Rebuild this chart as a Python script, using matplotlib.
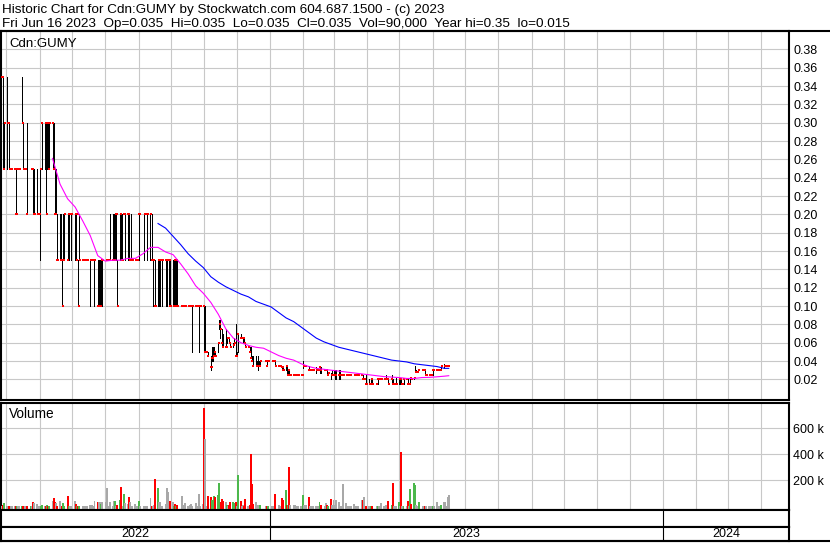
import numpy as np
import pandas as pd
import matplotlib
matplotlib.use("Agg")
import matplotlib.pyplot as plt
import matplotlib.dates as mdates
from matplotlib.lines import Line2D

plt.rcParams['font.family'] = ['Liberation Sans', 'DejaVu Sans']
n = np.nan

# daily bars, one row per week (Mon..Fri), prices in thousandths of a dollar
first_monday = "2022-04-25"
high = [
    n, n, 350, 350, 300,        # Apr 25
    350, 300, 300, 250, 250,    # May 2
    250, 250, 250, 250, 250,    # May 9
    350, 300, 250, 250, 300,    # May 16
    n, 250, 250, 250, 250,      # May 23
    250, 200, 250, 250, 300,    # May 30
    300, 300, 300, 300, 300,    # Jun 6
    300, 300, 250, 250, 200,    # Jun 13
    200, 200, 150, 200, 200,    # Jun 20
    200, 200, 200, 200, n,      # Jun 27
    200, 200, 200, 150, 200,    # Jul 4
    150, 150, 150, 150, 150,    # Jul 11
    150, 150, 150, 150, 150,    # Jul 18
    150, 150, 150, 150, 150,    # Jul 25
    n, 150, 150, 150, 200,      # Aug 1
    200, 200, 200, 200, 150,    # Aug 8
    200, 200, 200, 200, 200,    # Aug 15
    200, 200, 150, 200, 150,    # Aug 22
    150, 150, 150, 200, 200,    # Aug 29
    n, 200, 200, 200, 200,      # Sep 5
    200, 200, 150, 150, 150,    # Sep 12
    150, 150, 150, 150, 150,    # Sep 19
    150, 150, 150, 150, 150,    # Sep 26
    150, 150, 150, 150, 150,    # Oct 3
    n, 100, 100, 100, 100,      # Oct 10
    100, 100, 100, 100, 100,    # Oct 17
    100, 100, 100, 100, 100,    # Oct 24
    100, 100, 100, 50, 50,      # Oct 31
    45, 55, 55, 55, 50,         # Nov 7
    60, 85, 85, 75, 70,         # Nov 14
    75, 65, 65, 65, 60,         # Nov 21
    60, 65, 80, 50, 70,         # Nov 28
    70, 65, 65, 65, 60,         # Dec 5
    55, 55, 55, 45, 45,         # Dec 12
    45, 40, 45, 40, 40,         # Dec 19
    n, n, 40, 40, 40,           # Dec 26
    n, 40, 40, 40, 40,          # Jan 2
    35, 35, 35, 35, 35,         # Jan 9
    35, 35, 30, 30, 25,         # Jan 16
    25, 25, 25, 25, 25,         # Jan 23
    25, 25, 40, 35, 35,         # Jan 30
    35, 30, 30, 30, 30,         # Feb 6
    33, 30, 30, 33, 33,         # Feb 13
    n, 30, 30, 30, 27,          # Feb 20
    27, 30, 30, 30, 30,         # Feb 27
    30, 30, 25, 25, 25,         # Mar 6
    25, 25, 25, 25, 25,         # Mar 13
    25, 25, 25, 25, 25,         # Mar 20
    25, 25, 20, 20, 25,         # Mar 27
    20, 15, 20, 20, n,          # Apr 3
    15, 20, 20, 20, 20,         # Apr 10
    20, 20, 25, 20, 20,         # Apr 17
    25, 20, 15, 15, 22,         # Apr 24
    20, 20, 20, 15, 20,         # May 1
    20, 20, 15, 22, 22,         # May 8
    22, 35, 30, 30, 30,         # May 15
    n, 30, 30, 30, 25,          # May 22
    25, 25, 25, 30, 30,         # May 29
    30, 30, 30, 30, 35,         # Jun 5
    37, 35, 35, 35, 35,         # Jun 12
]
low = [
    n, n, 350, 250, 250,        # Apr 25
    250, 300, 250, 250, 250,    # May 2
    250, 200, 250, 250, 250,    # May 9
    300, 250, 250, 250, 200,    # May 16
    n, 250, 250, 200, 200,      # May 23
    200, 200, 150, 250, 250,    # May 30
    250, 200, 250, 250, 250,    # Jun 6
    250, 250, 200, 200, 150,    # Jun 13
    150, 150, 100, 150, 150,    # Jun 20
    150, 150, 200, 150, n,      # Jun 27
    150, 150, 200, 100, 150,    # Jul 4
    150, 150, 150, 150, 150,    # Jul 11
    100, 150, 150, 150, 100,    # Jul 18
    100, 100, 100, 100, 100,    # Jul 25
    n, 150, 150, 150, 150,      # Aug 1
    150, 150, 150, 150, 100,    # Aug 8
    150, 150, 150, 200, 150,    # Aug 15
    150, 150, 150, 150, 150,    # Aug 22
    150, 150, 150, 150, 200,    # Aug 29
    n, 150, 200, 200, 150,      # Sep 5
    150, 150, 100, 150, 100,    # Sep 12
    100, 100, 100, 150, 100,    # Sep 19
    100, 100, 150, 100, 100,    # Sep 26
    100, 100, 100, 100, 100,    # Oct 3
    n, 100, 100, 100, 100,      # Oct 10
    100, 100, 100, 100, 50,     # Oct 17
    100, 100, 100, 50, 100,     # Oct 24
    100, 50, 50, 50, 45,        # Oct 31
    30, 40, 40, 45, 45,         # Nov 7
    50, 75, 65, 55, 55,         # Nov 14
    55, 60, 65, 60, 55,         # Nov 21
    55, 58, 45, 45, 50,         # Nov 28
    65, 65, 60, 60, 55,         # Dec 5
    55, 50, 43, 40, 35,         # Dec 12
    35, 35, 30, 35, 35,         # Dec 19
    n, n, 40, 35, 40,           # Dec 26
    n, 40, 40, 40, 35,          # Jan 2
    35, 35, 35, 30, 30,         # Jan 9
    30, 25, 25, 25, 25,         # Jan 16
    25, 25, 25, 25, 25,         # Jan 23
    25, 25, 32, 35, 35,         # Jan 30
    30, 30, 30, 30, 30,         # Feb 6
    27, 30, 30, 27, 27,         # Feb 13
    n, 30, 30, 25, 25,          # Feb 20
    20, 25, 25, 20, 20,         # Feb 27
    20, 20, 25, 25, 25,         # Mar 6
    25, 25, 25, 25, 25,         # Mar 13
    25, 25, 25, 25, 25,         # Mar 20
    25, 20, 20, 20, 15,         # Mar 27
    15, 15, 15, 15, n,          # Apr 3
    15, 15, 20, 20, 20,         # Apr 10
    20, 20, 20, 20, 15,         # Apr 17
    15, 15, 15, 15, 15,         # Apr 24
    15, 15, 15, 15, 15,         # May 1
    20, 15, 15, 15, 20,         # May 8
    20, 28, 28, 28, 30,         # May 15
    n, 30, 30, 25, 25,          # May 22
    25, 25, 25, 25, 30,         # May 29
    30, 30, 30, 30, 30,         # Jun 5
    32, 35, 35, 35, 35,         # Jun 12
]
close = [
    n, n, 350, 250, 300,        # Apr 25
    300, 300, 250, 250, 250,    # May 2
    250, 200, 250, 250, 250,    # May 9
    300, 250, 250, 250, 200,    # May 16
    n, 250, 250, 200, 200,      # May 23
    200, 200, 200, 250, 300,    # May 30
    300, 200, 300, 250, 300,    # Jun 6
    300, 250, 200, 200, 150,    # Jun 13
    150, 150, 100, 150, 200,    # Jun 20
    150, 200, 200, 200, n,      # Jun 27
    200, 150, 200, 100, 150,    # Jul 4
    150, 150, 150, 150, 150,    # Jul 11
    150, 150, 150, 150, 150,    # Jul 18
    100, 100, 100, 150, 150,    # Jul 25
    n, 150, 150, 150, 150,      # Aug 1
    150, 150, 200, 200, 100,    # Aug 8
    200, 150, 150, 200, 200,    # Aug 15
    200, 150, 150, 150, 150,    # Aug 22
    150, 150, 150, 200, 200,    # Aug 29
    n, 200, 200, 200, 200,      # Sep 5
    200, 150, 150, 150, 100,    # Sep 12
    150, 150, 150, 150, 150,    # Sep 19
    150, 150, 150, 150, 100,    # Sep 26
    100, 150, 100, 150, 100,    # Oct 3
    n, 100, 100, 100, 100,      # Oct 10
    100, 100, 100, 100, 100,    # Oct 17
    100, 100, 100, 100, 100,    # Oct 24
    100, 50, 50, 50, 45,        # Oct 31
    33, 43, 45, 50, 45,         # Nov 7
    60, 80, 75, 60, 55,         # Nov 14
    55, 65, 65, 60, 55,         # Nov 21
    58, 60, 45, 45, 70,         # Nov 28
    65, 65, 65, 60, 55,         # Dec 5
    55, 50, 43, 40, 35,         # Dec 12
    35, 35, 35, 35, 40,         # Dec 19
    n, n, 40, 35, 40,           # Dec 26
    n, 40, 40, 40, 35,          # Jan 2
    35, 35, 35, 33, 30,         # Jan 9
    35, 25, 30, 25, 25,         # Jan 16
    25, 25, 25, 25, 25,         # Jan 23
    25, 25, 35, 35, 35,         # Jan 30
    30, 30, 30, 30, 30,         # Feb 6
    30, 30, 30, 33, 30,         # Feb 13
    n, 30, 30, 25, 27,          # Feb 20
    25, 25, 25, 25, 25,         # Feb 27
    25, 25, 25, 25, 25,         # Mar 6
    25, 25, 25, 25, 25,         # Mar 13
    25, 25, 25, 25, 25,         # Mar 20
    25, 20, 20, 20, 15,         # Mar 27
    15, 15, 20, 15, n,          # Apr 3
    15, 20, 20, 20, 20,         # Apr 10
    20, 20, 20, 20, 15,         # Apr 17
    20, 15, 15, 15, 15,         # Apr 24
    20, 20, 15, 15, 20,         # May 1
    20, 15, 15, 22, 20,         # May 8
    22, 28, 28, 28, 30,         # May 15
    n, 30, 30, 25, 25,          # May 22
    25, 25, 25, 30, 30,         # May 29
    30, 30, 30, 30, 35,         # Jun 5
    35, 35, 35, 35, 35,         # Jun 12
]
# volume in thousands of shares
volume = [
    n, n, 3, 8, 23,             # Apr 25
    2, 3, 4, 3, 2,              # May 2
    2, 4, 2, 3, 2,              # May 9
    3, 2, 1, 2, 4,              # May 16
    n, 2, 3, 31, 26,            # May 23
    18, 4, 5, 3, 10,            # May 30
    5, 5, 8, 3, 2,              # Jun 6
    41, 62, 30, 23, 5,          # Jun 13
    41, 5, 5, 23, 5,            # Jun 20
    80, 5, 5, 3, n,             # Jun 27
    41, 20, 3, 2, 3,            # Jul 4
    2, 1, 2, 2, 3,              # Jul 11
    8, 3, 10, 3, 41,            # Jul 18
    36, 36, 36, 20, 30,         # Jul 25
    n, 33, 141, 5, 33,          # Aug 1
    5, 41, 41, 5, 10,           # Aug 8
    46, 149, 5, 97, 28,         # Aug 15
    20, 74, 33, 3, 5,           # Aug 22
    20, 3, 5, 41, 5,            # Aug 29
    n, 5, 3, 2, 5,              # Sep 5
    64, 5, 5, 10, 210,          # Sep 12
    141, 33, 33, 5, 5,          # Sep 19
    20, 138, 110, 5, 41,        # Sep 26
    33, 3, 18, 5, 10,           # Oct 3
    n, 82, 3, 10, 26,           # Oct 10
    3, 5, 10, 15, 5,            # Oct 17
    26, 3, 5, 95, 5,            # Oct 24
    15, 759, 518, 5, 82,        # Oct 31
    72, 46, 20, 80, 74,         # Nov 7
    90, 177, 30, 54, 41,        # Nov 14
    31, 10, 5, 10, 33,          # Nov 21
    33, 23, 33, 3, 241,         # Nov 28
    41, 5, 10, 3, 54,           # Dec 5
    3, 10, 403, 169, 20,        # Dec 12
    33, 5, 10, 2, 10,           # Dec 19
    n, n, 2, 5, 2,              # Dec 26
    n, 2, 2, 3, 95,             # Jan 2
    10, 5, 3, 62, 49,           # Jan 9
    126, 8, 10, 305, 10,        # Jan 16
    10, 10, 3, 2, 3,            # Jan 23
    5, 5, 87, 10, 10,           # Jan 30
    72, 3, 2, 3, 3,             # Feb 6
    5, 3, 2, 33, 10,            # Feb 13
    n, 3, 23, 10, 5,            # Feb 20
    56, 10, 46, 10, 46,         # Feb 27
    31, 5, 2, 5, 169,           # Mar 6
    23, 5, 5, 2, 5,             # Mar 13
    18, 5, 3, 5, 5,             # Mar 20
    46, 49, 72, 5, 3,           # Mar 27
    3, 2, 2, 2, n,              # Apr 3
    2, 5, 3, 3, 26,             # Apr 10
    3, 5, 10, 5, 41,            # Apr 17
    10, 179, 5, 3, 3,           # Apr 24
    33, 5, 415, 3, 5,           # May 1
    5, 41, 3, 133, 20,          # May 8
    179, 164, 10, 5, 33,        # May 15
    n, 3, 3, 3, 5,              # May 22
    2, 3, 5, 2, 3,              # May 29
    33, 5, 2, 5, 10,            # Jun 5
    33, 36, 5, 72, 90,          # Jun 12
]

ma_first_monday = "2022-06-13"
ma_last_day = "2023-06-16"
ma_fast = [0.261, 0.233, 0.217, 0.208, 0.193, 0.177, 0.155, 0.149, 0.150, 0.150,
           0.152, 0.152, 0.157, 0.164, 0.164, 0.159, 0.156, 0.146, 0.135, 0.122,
           0.114, 0.104, 0.091, 0.075, 0.065, 0.060, 0.057, 0.055, 0.054, 0.050,
           0.046, 0.043, 0.041, 0.037, 0.034, 0.032, 0.031, 0.030, 0.029, 0.028,
           0.027, 0.026, 0.025, 0.024, 0.023, 0.0225, 0.022, 0.021, 0.021, 0.022,
           0.0222, 0.0228, 0.0235, 0.024]
ma_slow = [n] * 14 + [
           0.190, 0.185, 0.176, 0.167, 0.157, 0.149, 0.142, 0.132, 0.126, 0.121,
           0.117, 0.113, 0.110, 0.105, 0.102, 0.099, 0.093, 0.087, 0.083, 0.077,
           0.071, 0.065, 0.061, 0.058, 0.055, 0.053, 0.051, 0.049, 0.047, 0.045,
           0.043, 0.041, 0.040, 0.039, 0.037, 0.036, 0.035, 0.034, 0.032, 0.032]

price_ticks = [0.02, 0.04, 0.06, 0.08, 0.10, 0.12, 0.14, 0.16, 0.18, 0.20,
               0.22, 0.24, 0.26, 0.28, 0.30, 0.32, 0.34, 0.36, 0.38]
vol_ticks = [200000, 400000, 600000]
vol_labels = ["200 k", "400 k", "600 k"]
years = [2022, 2023, 2024]
title1 = "Historic Chart for Cdn:GUMY by Stockwatch.com 604.687.1500 - (c) 2023"
title2 = ("Fri Jun 16 2023  Op=0.035  Hi=0.035  Lo=0.035  Cl=0.035  "
          "Vol=90,000  Year hi=0.35  lo=0.015")

# ---- build the frame
m = min(len(high), len(low), len(close), len(volume))
df = pd.DataFrame({"hi": high[:m], "lo": low[:m], "cl": close[:m], "vol": volume[:m]},
                  index=pd.bdate_range(first_monday, periods=m))
df[["hi", "lo", "cl"]] /= 1000.0
df["vol"] *= 1000.0
df = df.dropna()
chg = df["cl"].diff().fillna(0)
vol_colors = np.where(chg > 0, "#4cb84c", np.where(chg < 0, "#ff0000", "#a8a8a8"))

ma_dates = list(pd.date_range(ma_first_monday, periods=len(ma_fast) - 1, freq="W-MON"))
ma_dates.append(pd.Timestamp(ma_last_day))

# ---- layout in pixels
W, H = 830, 543
fig = plt.figure(figsize=(W / 100, H / 100), dpi=100)


def box(l, t, r, b):
    return [l / W, 1 - b / H, (r - l) / W, (b - t) / H]


ax_p = fig.add_axes(box(1, 31, 789, 400))
ax_v = fig.add_axes(box(1, 402.5, 789, 509.5))
ax_m = fig.add_axes(box(1, 509.5, 789, 527))
ax_y = fig.add_axes(box(1, 527, 789, 541))

ppd = 393 / 365.0
t23 = mdates.date2num(pd.Timestamp("2023-01-01"))
t24 = mdates.date2num(pd.Timestamp("2024-01-01"))
xl = t23 - (270 - 1) / ppd
xr = t24 + (789 - 663) / ppd
months = mdates.date2num(pd.date_range("2022-05-01", "2024-04-01", freq="MS"))
grid_c = "#c8c8c8"

for ax in (ax_p, ax_v, ax_m, ax_y):
    ax.set_xlim(xl, xr)
    for s in ax.spines.values():
        s.set_linewidth(1.5)
        s.set_color("black")
    ax.tick_params(axis="x", length=0, labelbottom=False)
    ax.set_facecolor("white")

for ax in (ax_p, ax_v):
    ax.set_xticks(months)
    ax.grid(True, color=grid_c, linewidth=0.8)
    ax.set_axisbelow(True)
    ax.yaxis.tick_right()
    ax.tick_params(axis="y", length=0, pad=3, labelsize=9)

# ---- price panel
d = mdates.date2num(df.index)
ax_p.set_ylim(-0.0025, 0.40)
ax_p.set_yticks(price_ticks)
ax_p.set_yticklabels([f"{t:.2f}" for t in price_ticks])
rng = (df["hi"] > df["lo"]).values
ax_p.vlines(d[rng], df["lo"].values[rng], df["hi"].values[rng], color="black", lw=0.7,
            zorder=3, antialiased=False)
ax_p.hlines(df["cl"].values, d - 0.4, d + 1.6, color="red", lw=1.4, zorder=4, antialiased=False)
md = mdates.date2num(ma_dates)
ax_p.plot(md, ma_fast, color="#ff00ff", lw=0.8, zorder=5)
ax_p.plot(md, ma_slow, color="#0000ff", lw=0.8, zorder=5)

# ---- volume panel
vbot = -24600
ax_v.set_ylim(vbot, 798500)
ax_v.set_yticks(vol_ticks)
ax_v.set_yticklabels(vol_labels)
ax_v.bar(d, df["vol"].values - vbot, bottom=vbot, width=1.8, color=vol_colors, linewidth=0,
         zorder=3, antialiased=False)

# ---- date rows
for ax in (ax_m, ax_y):
    ax.set_ylim(0, 1)
    ax.set_yticks([])
    ax.set_xticks([])
    for t in (t23, t24):
        ax.axvline(t, color="black", lw=0.8)
edges = [xl, t23, t24, xr]
for i, yr in enumerate(years):
    ax_y.text((edges[i] + edges[i + 1]) / 2, 0.5, str(yr), ha="center", va="center", fontsize=9)

# ---- text and frame lines
fig.text(2 / W, 1 - 13.5 / H, title1, fontsize=9.7, va="baseline")
fig.text(2 / W, 1 - 27 / H, title2, fontsize=9.7, va="baseline")
fig.text(9 / W, 1 - 46.5 / H, "Cdn:GUMY", fontsize=9.5, va="baseline")
fig.text(9 / W, 1 - 418 / H, "Volume", fontsize=9.8, va="baseline")
fig.add_artist(Line2D([0, 1], [1 - 31 / H, 1 - 31 / H], color="black", lw=1.5))
fig.add_artist(Line2D([0, 1], [1 - 541 / H, 1 - 541 / H], color="black", lw=1.5))

fig.savefig("out.png", dpi=100)
